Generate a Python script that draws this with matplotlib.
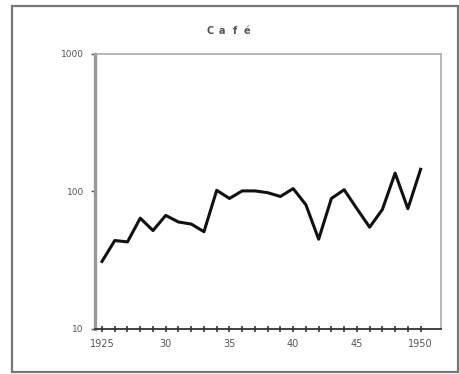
import matplotlib.pyplot as plt
from matplotlib.patches import Rectangle
from matplotlib.ticker import FixedLocator, NullLocator

# yearly values, 1925-1950
years = list(range(1925, 1951))
cafe = [31, 44, 43, 64, 52, 67, 60, 58, 51, 102,
        89, 101, 101, 98, 92, 105, 80, 45, 89, 103,
        75, 55, 74, 136, 75, 145]

title = "Café"
x_ticks = [1925, 1930, 1935, 1940, 1945, 1950]
x_labels = ["1925", "30", "35", "40", "45", "1950"]
y_ticks = [10, 100, 1000]
y_labels = ["10", "100", "1000"]

fig = plt.figure(figsize=(4.59, 3.74), dpi=100)

# outer frame round the whole chart
fig.patches.append(Rectangle((12 / 459, 2 / 374), 446 / 459, 366 / 374,
                             transform=fig.transFigure, fill=False,
                             edgecolor="#777777", linewidth=1.6))

ax = fig.add_axes([95 / 459, 45 / 374, 346 / 459, 275 / 374])
ax.plot(years, cafe, color="#111111", linewidth=2.2, solid_joinstyle="round")

ax.set_yscale("log")
ax.set_ylim(10, 1000)
ax.set_xlim(1924.45, 1951.6)

ax.yaxis.set_major_locator(FixedLocator(y_ticks))
ax.yaxis.set_minor_locator(NullLocator())
ax.set_yticklabels(y_labels)
ax.xaxis.set_major_locator(FixedLocator(x_ticks))
ax.xaxis.set_minor_locator(FixedLocator(years))
ax.set_xticklabels(x_labels)

ax.tick_params(axis="x", which="both", direction="inout", length=5,
               width=1.2, color="#333333", labelsize=7, labelcolor="#555555", pad=5)
ax.tick_params(axis="y", which="major", direction="out", length=3,
               width=1, color="#555555", labelsize=6.5, labelcolor="#555555", pad=5)

for side in ("top", "right"):
    ax.spines[side].set_color("#aaaaaa")
    ax.spines[side].set_linewidth(1.2)
ax.spines["left"].set_color("#999999")
ax.spines["left"].set_linewidth(2.4)
ax.spines["bottom"].set_color("#333333")
ax.spines["bottom"].set_linewidth(1.3)

# letter-spaced title
for i, ch in enumerate(title):
    fig.text((210 + i * 12.3) / 459, 1 - 31 / 374, ch, fontsize=7,
             fontweight="bold", color="#555555", ha="center", va="center")

fig.savefig("out.png", dpi=100)
